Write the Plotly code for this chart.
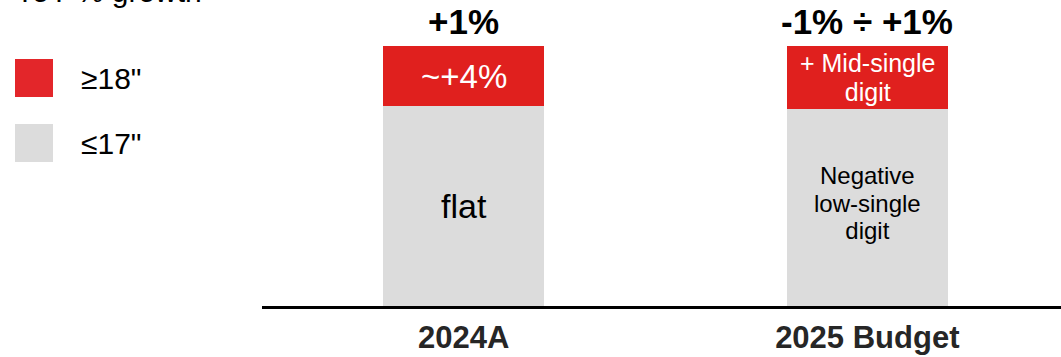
import plotly.graph_objects as go

# ---- data ----
categories = ["2024A", "2025 Budget"]
small_size = [200, 197]      # ≤17" segment height (illustrative units)
large_size = [60, 63]        # ≥18" segment height (illustrative units)
total_labels = ["+1%", "-1% ÷ +1%"]
large_labels = [["~+4%"], ["+ Mid-single", "digit"]]
small_labels = [["flat"], ["Negative", "low-single", "digit"]]
legend_names = ["≥18\"", "≤17\""]
title_text = "YoY % growth"

RED = "#E0201E"
LEG_RED = "#E3262A"
GREY = "#DCDCDC"
FONT = "Liberation Sans, Arial, sans-serif"

W, H = 1061, 357
ML, MR, MT, MB = 262, 0, 0, 51
PW, PH = W - ML - MR, H - MT - MB

def px_x(px):
    return (px - ML) / PW

def px_y(py):
    return (H - MB - py) / PH

def block(lines, glyph_size):
    return "<br>".join(f"<span style='font-size:{glyph_size}px'>{ln}</span>" for ln in lines)

fig = go.Figure()
fig.add_trace(go.Bar(x=categories, y=small_size, name=legend_names[1],
                     marker=dict(color=GREY, line=dict(width=0)), width=0.4,
                     hoverinfo="skip"))
fig.add_trace(go.Bar(x=categories, y=large_size, name=legend_names[0],
                     marker=dict(color=RED, line=dict(width=0)), width=0.4,
                     hoverinfo="skip"))

ann = []
# totals on top
for c, s, l, t in zip(categories, small_size, large_size, total_labels):
    ann.append(dict(x=c, y=s + l, xref="x", yref="y", text=f"<b>{t}</b>",
                    showarrow=False, yanchor="middle", yshift=25,
                    font=dict(family=FONT, size=35, color="#000000")))

# labels in the red segments (line spacing = 1.3 * base size)
red_glyph = [33, 25]
red_base = [33, 22.2]
for i, (c, s, l) in enumerate(zip(categories, small_size, large_size)):
    ann.append(dict(x=c, y=s + l / 2, xref="x", yref="y",
                    text=block(large_labels[i], red_glyph[i]),
                    showarrow=False, yanchor="middle", yshift=0,
                    font=dict(family=FONT, size=red_base[i], color="white")))

# labels in the grey segments
grey_glyph = [34, 24]
grey_base = [34, 21.3]
grey_shift = [0, 5]
for i, (c, s) in enumerate(zip(categories, small_size)):
    ann.append(dict(x=c, y=s / 2, xref="x", yref="y",
                    text=block(small_labels[i], grey_glyph[i]),
                    showarrow=False, yanchor="middle", yshift=grey_shift[i],
                    font=dict(family=FONT, size=grey_base[i], color="#000000")))

# title (cut at top, as in the original slide crop)
ann.append(dict(x=px_x(13), y=1, xref="paper", yref="paper", text=title_text,
                showarrow=False, xanchor="left", yanchor="bottom", yshift=-10,
                font=dict(family=FONT, size=30, color="#000000")))

# custom legend
shapes = []
legend_colors = [LEG_RED, GREY]
legend_tops = [59, 124]
for name, col, top in zip(legend_names, legend_colors, legend_tops):
    shapes.append(dict(type="rect", xref="paper", yref="paper",
                       x0=px_x(15), x1=px_x(53), y0=px_y(top + 38), y1=px_y(top),
                       fillcolor=col, line=dict(width=0), layer="above"))
    ann.append(dict(x=px_x(79), y=px_y(top + 19), xref="paper", yref="paper",
                    text=name, showarrow=False, xanchor="left", yanchor="middle",
                    font=dict(family=FONT, size=30, color="#000000")))

fig.update_layout(
    barmode="stack",
    width=W, height=H,
    margin=dict(l=ML, r=MR, t=MT, b=MB, pad=0, autoexpand=False),
    paper_bgcolor="white", plot_bgcolor="white",
    showlegend=False,
    annotations=ann,
    shapes=shapes,
    xaxis=dict(type="category", range=[-0.5, 1.48], showgrid=False,
               showline=True, linecolor="#000000", linewidth=2.5,
               ticks="", ticklabelstandoff=2, automargin=False,
               tickfont=dict(family=FONT, size=31, color="#262626"),
               tickprefix="<b>", ticksuffix="</b>", zeroline=False,
               fixedrange=True),
    yaxis=dict(range=[0, PH], visible=False, showgrid=False, zeroline=False,
               fixedrange=True, automargin=False),
)

fig.write_html("out.html")
